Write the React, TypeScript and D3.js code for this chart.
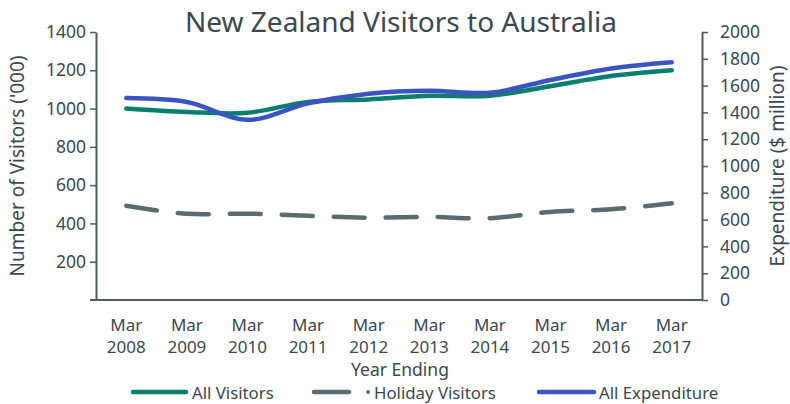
import React, { useEffect, useRef } from "react";
import * as d3 from "d3";

const categories = ["Mar 2008", "Mar 2009", "Mar 2010", "Mar 2011", "Mar 2012", "Mar 2013", "Mar 2014", "Mar 2015", "Mar 2016", "Mar 2017"];
const allVisitors = [1000, 982, 978, 1035, 1048, 1067, 1067, 1117, 1170, 1200];
const holidayVisitors = [492, 450, 451, 440, 430, 434, 427, 460, 474, 505];
const allExpenditure = [1507, 1478, 1345, 1468, 1540, 1562, 1547, 1642, 1728, 1774];
const leftTicks = [200, 400, 600, 800, 1000, 1200, 1400];
const rightTicks = [0, 200, 400, 600, 800, 1000, 1200, 1400, 1600, 1800, 2000];

const TEXT = "#3b4852";
const AXIS = "#4d5c63";
const GREEN = "#0a7f6f";
const GRAY = "#5a6b71";
const BLUE = "#3a55c0";
const FONT = "'Noto Sans', sans-serif";

export default function App() {
  const ref = useRef<SVGSVGElement>(null);
  useEffect(() => {
    const svg = d3.select(ref.current);
    svg.selectAll("*").remove();
    const left = 96, right = 702, top = 32, bottom = 300;
    const x = d3.scalePoint<string>().domain(categories).range([left, right]).padding(0.5);
    const yL = d3.scaleLinear().domain([0, 1400]).range([bottom, top]);
    const yR = d3.scaleLinear().domain([0, 2000]).range([bottom, top]);
    const fmt = d3.format("d");

    svg.append("text").attr("x", 401).attr("y", 32).attr("text-anchor", "middle")
      .attr("font-size", 28).attr("fill", TEXT).attr("font-family", FONT)
      .text("New Zealand Visitors to Australia");

    const gL = svg.append("g").attr("transform", `translate(${left},0)`);
    gL.call(d3.axisLeft(yL).tickValues(leftTicks).tickFormat(fmt as any).tickSize(6).tickSizeOuter(0).tickPadding(4));
    const gR = svg.append("g").attr("transform", `translate(${right},0)`);
    gR.call(d3.axisRight(yR).tickValues(rightTicks).tickFormat(fmt as any).tickSize(6).tickSizeOuter(0).tickPadding(12));
    for (const g of [gL, gR]) {
      g.select(".domain").attr("stroke", AXIS).attr("stroke-width", 2);
      g.selectAll(".tick line").attr("stroke", AXIS).attr("stroke-width", 1.5);
      g.selectAll(".tick text").attr("fill", TEXT).attr("font-size", 17.5).attr("font-family", FONT);
    }
    svg.append("line").attr("x1", 90).attr("x2", right).attr("y1", bottom).attr("y2", bottom)
      .attr("stroke", AXIS).attr("stroke-width", 2);

    const xl = svg.append("g");
    categories.forEach((c) => {
      const [m, yv] = c.split(" ");
      const t = xl.append("text").attr("x", x(c)!).attr("text-anchor", "middle")
        .attr("fill", TEXT).attr("font-size", 17).attr("font-family", FONT);
      t.append("tspan").attr("x", x(c)!).attr("y", 331).text(m);
      t.append("tspan").attr("x", x(c)!).attr("y", 353).text(yv);
    });
    svg.append("text").attr("x", 400).attr("y", 376).attr("text-anchor", "middle")
      .attr("fill", TEXT).attr("font-size", 17.5).attr("font-family", FONT).text("Year Ending");

    svg.append("text").attr("transform", `translate(24,${(top + bottom) / 2}) rotate(-90)`)
      .attr("text-anchor", "middle").attr("fill", TEXT).attr("font-size", 19).attr("font-family", FONT)
      .text("Number of Visitors ('000)");
    svg.append("text").attr("transform", `translate(784,${(top + bottom) / 2}) rotate(-90)`)
      .attr("text-anchor", "middle").attr("fill", TEXT).attr("font-size", 19).attr("font-family", FONT)
      .text("Expenditure ($ million)");

    const lineL = d3.line<number>().x((_, i) => x(categories[i])!).y((d) => yL(d)).curve(d3.curveCatmullRom);
    const lineR = d3.line<number>().x((_, i) => x(categories[i])!).y((d) => yR(d)).curve(d3.curveCatmullRom);

    svg.append("path").attr("d", lineL(holidayVisitors)).attr("fill", "none").attr("stroke", GRAY)
      .attr("stroke-width", 4.5).attr("stroke-linecap", "round").attr("stroke-dasharray", "31 21");
    svg.append("path").attr("d", lineL(allVisitors)).attr("fill", "none").attr("stroke", GREEN)
      .attr("stroke-width", 4.5).attr("stroke-linecap", "round");
    svg.append("path").attr("d", lineR(allExpenditure)).attr("fill", "none").attr("stroke", BLUE)
      .attr("stroke-width", 4.5).attr("stroke-linecap", "round");

    const ly = 392;
    const ty = 399;
    const leg = svg.append("g");
    leg.append("line").attr("x1", 133).attr("x2", 186).attr("y1", ly).attr("y2", ly)
      .attr("stroke", GREEN).attr("stroke-width", 4.5).attr("stroke-linecap", "round");
    leg.append("text").attr("x", 192).attr("y", ty).attr("fill", TEXT).attr("font-size", 16.8)
      .attr("font-family", FONT).text("All Visitors");
    leg.append("line").attr("x1", 314).attr("x2", 349).attr("y1", ly).attr("y2", ly)
      .attr("stroke", GRAY).attr("stroke-width", 4.5).attr("stroke-linecap", "round");
    leg.append("circle").attr("cx", 368).attr("cy", ly).attr("r", 2).attr("fill", GRAY);
    leg.append("text").attr("x", 374).attr("y", ty).attr("fill", TEXT).attr("font-size", 16.8)
      .attr("font-family", FONT).text("Holiday Visitors");
    leg.append("line").attr("x1", 539).attr("x2", 594).attr("y1", ly).attr("y2", ly)
      .attr("stroke", BLUE).attr("stroke-width", 4.5).attr("stroke-linecap", "round");
    leg.append("text").attr("x", 599).attr("y", ty).attr("fill", TEXT).attr("font-size", 16.8)
      .attr("font-family", FONT).text("All Expenditure");
  }, []);
  return (
    <svg ref={ref} width={790} height={404} style={{ position: "absolute", left: 0, top: 0, background: "#fff" }} />
  );
}
